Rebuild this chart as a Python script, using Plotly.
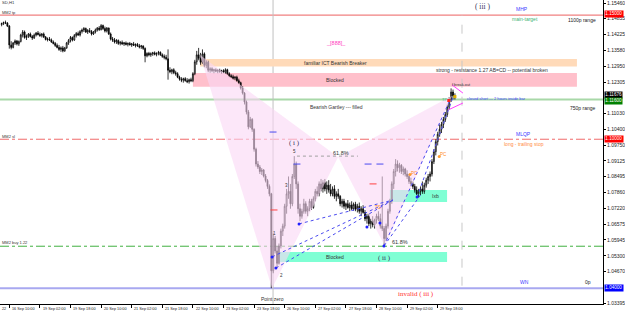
import plotly.graph_objects as go

# ---------------- data (GBPUSD H1, bar index 0 = 16 Sep 10:00) ----------------
bars = list(range(-4, 234))
opens = [
 1.1462,1.1466,1.1470,1.1468,1.1456,1.1380,1.1370,1.1388,1.1396,1.1384,
 1.1394,1.1420,1.1432,1.1410,1.1415,1.1424,1.1414,1.1408,1.1420,1.1428,
 1.1422,1.1418,1.1424,1.1412,1.1402,1.1404,1.1400,1.1392,1.1386,1.1378,
 1.1370,1.1362,1.1368,1.1356,1.1368,1.1388,1.1398,1.1410,1.1400,1.1418,
 1.1426,1.1420,1.1434,1.1440,1.1446,1.1432,1.1438,1.1434,1.1424,1.1432,
 1.1440,1.1448,1.1442,1.1458,1.1446,1.1436,1.1448,1.1424,1.1404,1.1400,
 1.1392,1.1398,1.1386,1.1390,1.1384,1.1388,1.1382,1.1386,1.1380,1.1384,
 1.1378,1.1382,1.1376,1.1372,1.1376,1.1366,1.1336,1.1346,1.1340,1.1344,
 1.1348,1.1342,1.1346,1.1350,1.1340,1.1334,1.1330,1.1324,1.1278,1.1272,
 1.1280,1.1268,1.1264,1.1250,1.1242,1.1238,1.1244,1.1236,1.1232,1.1240,
 1.1236,1.1264,1.1312,1.1340,1.1326,1.1310,1.1344,1.1298,1.1310,1.1278,
 1.1284,1.1276,1.1280,1.1274,1.1278,1.1272,1.1276,1.1270,1.1280,1.1264,
 1.1256,1.1252,1.1246,1.1250,1.1236,1.1228,1.1206,1.1186,1.1150,1.1110,
 1.1050,1.1080,1.1040,1.0960,1.0900,1.0888,1.0870,1.0876,1.0852,1.0834,
 1.0810,1.0780,1.0470,1.0600,1.0550,1.0500,1.0570,1.0630,1.0650,1.0730,
 1.0780,1.0790,1.0740,1.0850,1.0900,1.0820,1.0720,1.0690,1.0710,1.0740,
 1.0710,1.0720,1.0750,1.0725,1.0760,1.0790,1.0780,1.0820,1.0800,1.0825,
 1.0800,1.0815,1.0795,1.0780,1.0800,1.0770,1.0780,1.0770,1.0740,1.0750,
 1.0730,1.0740,1.0725,1.0735,1.0720,1.0738,1.0718,1.0730,1.0710,1.0720,
 1.0705,1.0680,1.0690,1.0660,1.0670,1.0655,1.0675,1.0690,1.0680,1.0650,
 1.0640,1.0600,1.0650,1.0710,1.0750,1.0820,1.0870,1.0900,1.0885,1.0895,
 1.0870,1.0880,1.0860,1.0850,1.0830,1.0820,1.0810,1.0795,1.0780,1.0790,
 1.0800,1.0790,1.0815,1.0835,1.0850,1.0860,1.0910,1.0950,1.0990,1.1020,
 1.1040,1.1060,1.1080,1.1100,1.1130,1.1160,1.1190,1.1175]
highs = [
 1.1470,1.1474,1.1478,1.1472,1.1460,1.1395,1.1392,1.1402,1.1400,1.1398,
 1.1425,1.1440,1.1438,1.1422,1.1428,1.1430,1.1420,1.1426,1.1432,1.1436,
 1.1430,1.1428,1.1430,1.1416,1.1410,1.1412,1.1406,1.1398,1.1392,1.1386,
 1.1380,1.1374,1.1376,1.1372,1.1392,1.1404,1.1416,1.1414,1.1424,1.1432,
 1.1434,1.1440,1.1446,1.1452,1.1450,1.1444,1.1448,1.1440,1.1436,1.1446,
 1.1452,1.1456,1.1464,1.1462,1.1454,1.1452,1.1450,1.1430,1.1412,1.1408,
 1.1404,1.1402,1.1396,1.1398,1.1392,1.1394,1.1390,1.1392,1.1388,1.1392,
 1.1386,1.1388,1.1384,1.1380,1.1378,1.1370,1.1350,1.1352,1.1350,1.1352,
 1.1354,1.1350,1.1356,1.1354,1.1346,1.1342,1.1340,1.1362,1.1290,1.1284,
 1.1286,1.1276,1.1270,1.1256,1.1250,1.1248,1.1250,1.1246,1.1244,1.1248,
 1.1270,1.1320,1.1356,1.1368,1.1348,1.1362,1.1350,1.1318,1.1316,1.1290,
 1.1290,1.1284,1.1286,1.1282,1.1284,1.1280,1.1282,1.1286,1.1284,1.1270,
 1.1262,1.1260,1.1254,1.1256,1.1244,1.1232,1.1214,1.1190,1.1156,1.1118,
 1.1090,1.1085,1.1044,1.0966,1.0912,1.0896,1.0884,1.0880,1.0860,1.0840,
 1.0818,1.0784,1.0620,1.0610,1.0570,1.0580,1.0640,1.0660,1.0740,1.0800,
 1.0850,1.0820,1.0860,1.0932,1.0910,1.0830,1.0740,1.0720,1.0760,1.0750,
 1.0730,1.0760,1.0760,1.0770,1.0800,1.0810,1.0830,1.0840,1.0835,1.0840,
 1.0830,1.0835,1.0820,1.0810,1.0815,1.0790,1.0800,1.0775,1.0760,1.0760,
 1.0745,1.0755,1.0745,1.0750,1.0745,1.0748,1.0740,1.0745,1.0730,1.0735,
 1.0715,1.0700,1.0700,1.0680,1.0690,1.0680,1.0700,1.0710,1.0700,1.0850,
 1.0650,1.0660,1.0720,1.0760,1.0830,1.0880,1.0920,1.0915,1.0905,1.0900,
 1.0890,1.0885,1.0875,1.0860,1.0845,1.0830,1.0820,1.0810,1.0800,1.0810,
 1.0830,1.0825,1.0845,1.0860,1.0870,1.0920,1.0960,1.1000,1.1030,1.1060,
 1.1070,1.1090,1.1110,1.1140,1.1170,1.1205,1.1200,1.1185]
lows = [
 1.1455,1.1460,1.1464,1.1452,1.1365,1.1362,1.1366,1.1380,1.1378,1.1376,
 1.1390,1.1410,1.1405,1.1400,1.1408,1.1410,1.1400,1.1404,1.1414,1.1418,
 1.1412,1.1410,1.1408,1.1398,1.1394,1.1396,1.1388,1.1382,1.1372,1.1366,
 1.1356,1.1352,1.1350,1.1352,1.1364,1.1380,1.1390,1.1394,1.1396,1.1410,
 1.1416,1.1414,1.1426,1.1432,1.1428,1.1424,1.1428,1.1418,1.1420,1.1426,
 1.1434,1.1436,1.1438,1.1440,1.1430,1.1430,1.1420,1.1398,1.1392,1.1386,
 1.1384,1.1380,1.1378,1.1380,1.1376,1.1378,1.1374,1.1378,1.1372,1.1376,
 1.1370,1.1372,1.1366,1.1364,1.1360,1.1310,1.1330,1.1334,1.1332,1.1336,
 1.1338,1.1334,1.1338,1.1336,1.1328,1.1322,1.1318,1.1240,1.1266,1.1262,
 1.1262,1.1256,1.1246,1.1236,1.1230,1.1228,1.1232,1.1226,1.1224,1.1230,
 1.1230,1.1258,1.1300,1.1318,1.1300,1.1304,1.1290,1.1286,1.1270,1.1268,
 1.1270,1.1266,1.1270,1.1266,1.1268,1.1264,1.1266,1.1264,1.1260,1.1250,
 1.1246,1.1240,1.1238,1.1232,1.1222,1.1200,1.1180,1.1140,1.1100,1.1040,
 1.1045,1.1030,1.0950,1.0890,1.0880,1.0860,1.0856,1.0846,1.0826,1.0800,
 1.0770,1.0400,1.0460,1.0540,1.0482,1.0495,1.0560,1.0610,1.0640,1.0700,
 1.0760,1.0720,1.0730,1.0840,1.0800,1.0700,1.0670,1.0680,1.0700,1.0700,
 1.0690,1.0710,1.0715,1.0720,1.0750,1.0770,1.0770,1.0790,1.0785,1.0790,
 1.0780,1.0785,1.0770,1.0770,1.0760,1.0750,1.0760,1.0730,1.0725,1.0720,
 1.0715,1.0720,1.0710,1.0715,1.0712,1.0710,1.0705,1.0700,1.0690,1.0700,
 1.0670,1.0660,1.0650,1.0640,1.0645,1.0640,1.0660,1.0670,1.0640,1.0630,
 1.0574,1.0590,1.0640,1.0700,1.0740,1.0800,1.0850,1.0870,1.0865,1.0860,
 1.0855,1.0850,1.0840,1.0820,1.0810,1.0800,1.0785,1.0775,1.0765,1.0775,
 1.0780,1.0780,1.0805,1.0820,1.0830,1.0850,1.0900,1.0935,1.0975,1.1010,
 1.1025,1.1045,1.1070,1.1090,1.1120,1.1150,1.1160,1.1160]
closes = [
 1.1466,1.1470,1.1468,1.1456,1.1380,1.1370,1.1388,1.1396,1.1384,1.1394,
 1.1420,1.1432,1.1410,1.1415,1.1424,1.1414,1.1408,1.1420,1.1428,1.1422,
 1.1418,1.1424,1.1412,1.1402,1.1404,1.1400,1.1392,1.1386,1.1378,1.1370,
 1.1362,1.1368,1.1356,1.1368,1.1388,1.1398,1.1410,1.1400,1.1418,1.1426,
 1.1420,1.1434,1.1440,1.1446,1.1432,1.1438,1.1434,1.1424,1.1432,1.1440,
 1.1448,1.1442,1.1458,1.1446,1.1436,1.1448,1.1424,1.1404,1.1400,1.1392,
 1.1398,1.1386,1.1390,1.1384,1.1388,1.1382,1.1386,1.1380,1.1384,1.1378,
 1.1382,1.1376,1.1372,1.1376,1.1366,1.1336,1.1346,1.1340,1.1344,1.1348,
 1.1342,1.1346,1.1350,1.1340,1.1334,1.1330,1.1324,1.1278,1.1272,1.1280,
 1.1268,1.1264,1.1250,1.1242,1.1238,1.1244,1.1236,1.1232,1.1240,1.1236,
 1.1264,1.1312,1.1340,1.1326,1.1310,1.1344,1.1298,1.1310,1.1278,1.1284,
 1.1276,1.1280,1.1274,1.1278,1.1272,1.1276,1.1270,1.1280,1.1264,1.1256,
 1.1252,1.1246,1.1250,1.1236,1.1228,1.1206,1.1186,1.1150,1.1110,1.1050,
 1.1080,1.1040,1.0960,1.0900,1.0888,1.0870,1.0876,1.0852,1.0834,1.0810,
 1.0780,1.0470,1.0600,1.0550,1.0500,1.0570,1.0630,1.0650,1.0730,1.0780,
 1.0790,1.0740,1.0850,1.0900,1.0820,1.0720,1.0690,1.0710,1.0740,1.0710,
 1.0720,1.0750,1.0725,1.0760,1.0790,1.0780,1.0820,1.0800,1.0825,1.0800,
 1.0815,1.0795,1.0780,1.0800,1.0770,1.0780,1.0770,1.0740,1.0750,1.0730,
 1.0740,1.0725,1.0735,1.0720,1.0738,1.0718,1.0730,1.0710,1.0720,1.0705,
 1.0680,1.0690,1.0660,1.0670,1.0655,1.0675,1.0690,1.0680,1.0650,1.0640,
 1.0600,1.0650,1.0710,1.0750,1.0820,1.0870,1.0900,1.0885,1.0895,1.0870,
 1.0880,1.0860,1.0850,1.0830,1.0820,1.0810,1.0795,1.0780,1.0790,1.0800,
 1.0790,1.0815,1.0835,1.0850,1.0860,1.0910,1.0950,1.0990,1.1020,1.1040,
 1.1060,1.1080,1.1100,1.1130,1.1160,1.1190,1.1175,1.11676]
assert len(bars) == len(opens) == len(highs) == len(lows) == len(closes)

x_tick_bars = [0, 16, 32, 48, 64, 80, 96, 112, 128, 144, 160, 176, 192, 208, 224]
x_tick_labels = ["16 Sep 10:00", "19 Sep 02:00", "19 Sep 18:00", "20 Sep 10:00",
                 "21 Sep 02:00", "21 Sep 18:00", "22 Sep 10:00", "23 Sep 02:00",
                 "23 Sep 18:00", "26 Sep 10:00", "27 Sep 02:00", "27 Sep 18:00",
                 "28 Sep 10:00", "29 Sep 02:00", "29 Sep 18:00"]
y_tick_values = [1.15460, 1.14855, 1.14225, 1.13580, 1.12950, 1.12305, 1.11030,
                 1.10400, 1.09750, 1.09125, 1.08495, 1.07860, 1.07220, 1.06575,
                 1.05945, 1.05300, 1.04670, 1.03395]
box_levels = [1.15000, 1.11676, 1.11600, 1.10000, 1.04000]
box_colors = ["#ff0000", "#000000", "#008000", "#ff0000", "#0000ff"]
box_shift = [1.5, 2.5, -1.5, 0, 0]

# horizontal levels
level_prices = [1.1500, 1.1160, 1.1000, 1.0569, 1.0400]
level_colors = ["#f08080", "#a8d8a8", "#f06a6a", "#40b040", "#a8a8f0"]
level_dash = ["solid", "solid", "dashdot", "dashdot", "solid"]
level_width = [1.2, 2, 1, 1, 2]

# zones
zone_x0 = [99.7, 96.0, 140.5, 199.0]
zone_x1 = [296.8, 296.8, 228.9, 228.9]
zone_lo = [1.1293, 1.1211, 1.0505, 1.0747]
zone_hi = [1.1323, 1.1267, 1.0546, 1.0796]
zone_colors = ["#ffdab9", "#ffc0cb", "#7fffd4", "#7fffd4"]
zone_labels = ["familiar ICT Bearish Breaker", "Blocked", "Blocked", "Ixb"]
zone_label_x = [170.3, 170.3, 170.3, 222.6]

# harmonic pattern points X A B C D
pat_bars = [99.7, 137.4, 171.9, 196.4, 231.5]
pat_prices = [1.1339, 1.0400, 1.0928, 1.0570, 1.1175]

# dotted blue fan lines
fan_x0 = [137.4, 139.4, 151.5, 195.9, 213.2, 195.9]
fan_y0 = [1.0526, 1.0481, 1.0659, 1.0570, 1.0767, 1.0570]
fan_x1 = [200.6, 200.6, 200.6, 230.4, 232.0, 215.0]
fan_y1 = [1.0755, 1.0755, 1.0755, 1.1158, 1.1170, 1.0775]
dot_bars = [137.4, 139.4, 151.5, 187.0, 193.8, 195.9, 213.2]
dot_prices = [1.0526, 1.0481, 1.0659, 1.0646, 1.0663, 1.0570, 1.0767]

blue_dash_bars = [137.9, 150.4, 187.6, 193.8]
blue_dash_prices = [1.1029, 1.0900, 1.0900, 1.0900]
red_dash_bars = [138.4, 190.2]
red_dash_prices = [1.0715, 1.0820]

fib_x = [150.4, 182.3]
fib_price = 1.0932

# ---------------- figure ----------------
FONT = "Liberation Sans"
SERIF = "Liberation Serif"
fig = go.Figure()

# pattern triangles
X, A, B, C, D = list(zip(pat_bars, pat_prices))
for tri in ([X, A, B, X], [B, C, D, B]):
    fig.add_trace(go.Scatter(x=[p[0] for p in tri], y=[p[1] for p in tri],
                             mode="lines", fill="toself", fillcolor="rgba(250,215,245,0.6)",
                             line=dict(width=0), hoverinfo="skip"))

# fan lines
for i in range(len(fan_x0)):
    fig.add_trace(go.Scatter(x=[fan_x0[i], fan_x1[i]], y=[fan_y0[i], fan_y1[i]],
                             mode="lines", line=dict(color="#4a4af0", width=1, dash="dot"),
                             hoverinfo="skip"))

# fib 61.8 dotted line
fig.add_trace(go.Scatter(x=fib_x, y=[fib_price, fib_price], mode="lines",
                         line=dict(color="#a0a0a0", width=1, dash="dot"), hoverinfo="skip"))

# magenta wedge near D
fig.add_trace(go.Scatter(x=[231.5, 237.2, None, 229.5, 237.2], y=[1.1219, 1.1186, None, 1.1118, 1.1146],
                         mode="lines", line=dict(color="#ff40ff", width=1), hoverinfo="skip"))

# candles
fig.add_trace(go.Candlestick(x=bars, open=opens, high=highs, low=lows, close=closes,
                             increasing=dict(line=dict(color="#000000", width=0.8), fillcolor="#ffffff"),
                             decreasing=dict(line=dict(color="#000000", width=0.8), fillcolor="#000000"),
                             whiskerwidth=0, hoverinfo="skip"))

# markers
fig.add_trace(go.Scatter(x=dot_bars, y=dot_prices, mode="markers",
                         marker=dict(color="#2020ff", size=3), hoverinfo="skip"))
fig.add_trace(go.Scatter(x=blue_dash_bars, y=blue_dash_prices, mode="markers",
                         marker=dict(symbol="line-ew", size=5, line=dict(color="#4a4af0", width=1)),
                         hoverinfo="skip"))
fig.add_trace(go.Scatter(x=red_dash_bars, y=red_dash_prices, mode="markers",
                         marker=dict(symbol="line-ew", size=5, line=dict(color="#ff4040", width=1)),
                         hoverinfo="skip"))
fig.add_trace(go.Scatter(x=[229.8, 233.0], y=[1.1156, 1.1172], mode="markers",
                         marker=dict(symbol="square", size=3, color=["#ff2020", "#e0b000"]),
                         hoverinfo="skip"))
fig.add_trace(go.Scatter(x=[209.5, 224.8], y=[1.0858, 1.0930], mode="markers",
                         marker=dict(size=3, color="#ff9c30"), hoverinfo="skip"))

shapes = []
for i in range(len(zone_x0)):
    shapes.append(dict(type="rect", xref="x", yref="y", x0=zone_x0[i], x1=zone_x1[i],
                       y0=zone_lo[i], y1=zone_hi[i], fillcolor=zone_colors[i],
                       line=dict(width=0), layer="below"))
for i in range(len(level_prices)):
    shapes.append(dict(type="line", xref="paper", yref="y", x0=0, x1=1,
                       y0=level_prices[i], y1=level_prices[i],
                       line=dict(color=level_colors[i], width=level_width[i], dash=level_dash[i]),
                       layer="below"))
# vertical lines
shapes.append(dict(type="line", xref="x", yref="paper", x0=137.9, x1=137.9, y0=0, y1=1,
                   line=dict(color="#c0c0c0", width=1), layer="below"))
shapes.append(dict(type="line", xref="x", yref="y", x0=236.7, x1=236.7, y0=1.0410, y1=1.1500,
                   line=dict(color="#c8c8c8", width=1, dash="dash"), layer="below"))

ann = []
def t(x, y, s, color="#333333", size=5, family=FONT, xanchor="center", xref="x", yref="y"):
    ann.append(dict(x=x, y=y, xref=xref, yref=yref, text=s, showarrow=False,
                    xanchor=xanchor, yanchor="middle",
                    font=dict(family=family, size=size, color=color)))

for i in range(len(zone_labels)):
    t(zone_label_x[i], (zone_lo[i] + zone_hi[i]) / 2, zone_labels[i])

t(0, 1.1550, "SD,H1", size=4.2, xanchor="left", xref="paper")
t(0, 1.1511, "MM2 tp", size=4, xanchor="left", xref="paper")
t(0, 1.1013, "MM2 sl", size=4, xanchor="left", xref="paper")
t(0, 1.0582, "MM2 buy 1.22", size=4, xanchor="left", xref="paper")
t(299.5, 1.1480, "1100p range", size=5, color="#222222")
t(300.0, 1.1126, "750p range", size=5, color="#222222")
t(268.1, 1.1525, "MHP", size=5, color="#3c3cff")
t(269.6, 1.1484, "main-target", size=5, color="#3cb371")
t(247.2, 1.1533, "( iii )", size=7.5, family=SERIF, color="#33335a")
t(170.9, 1.1389, "_[888]_", size=5.5, color="#ff40c0")
t(252.4, 1.1279, "strong - resistance 1.27 AB=CD -- potential broken", size=5)
t(230.4, 1.1217, "f break-out", size=3.8, xanchor="left")
t(227.3, 1.1162, "TP", size=4, color="#3cb371")
t(238.3, 1.1166, "closed short \u2014 2 hours inside bar", size=3.9, color="#4040ff", xanchor="left")
t(171.3, 1.1130, "Bearish Gartley --- filled", size=5)
t(269.1, 1.1021, "MLQP", size=5, color="#3c3cff")
t(269.1, 1.0981, "long - trailing stop", size=5, color="#ff8c40")
t(148.9, 1.0983, "( i )", size=7, family=SERIF, color="#33335a")
t(148.9, 1.0949, "5", size=4.5)
t(173.4, 1.0945, "61.8%", size=5.5)
t(144.7, 1.0812, "3", size=4.5)
t(138.9, 1.0622, "1", size=4.5)
t(142.1, 1.0453, "2", size=4.5)
t(211.8, 1.0864, "PC", size=4.5, color="#ff8c20")
t(227.0, 1.0937, "PC", size=4.5, color="#ff8c20")
t(192.8, 1.0727, "TS", size=4.5, color="#ff8c20")
t(204.3, 1.0586, "61.8%", size=5.5)
t(196.4, 1.0522, "( ii )", size=7, family=SERIF, color="#33335a")
t(269.6, 1.0425, "WN", size=5, color="#3c3cff")
t(302.6, 1.0425, "0p", size=5, color="#222222")
t(137.4, 1.0356, "Point zero", size=5)
t(212.7, 1.0377, "invalid ( iii )", size=7, family=SERIF, color="#ff3030")

# x-axis labels (MT4 style, left aligned after tick)
for b, s in zip(x_tick_bars, x_tick_labels):
    t(b + 0.4, -0.016, s, size=3.8, xanchor="left", yref="paper", color="#222222")
t(0, -0.016, "22", size=3.8, xanchor="left", xref="paper", yref="paper", color="#222222")

# highlighted price boxes on the right axis
for lv, col, sh in zip(box_levels, box_colors, box_shift):
    ann.append(dict(x=1, y=lv, xref="paper", yref="y", text=f"{lv:.5f}", showarrow=False,
                    xanchor="left", yanchor="middle", xshift=1, yshift=sh, bgcolor=col,
                    borderpad=0.3, font=dict(family=FONT, size=4.6, color="#ffffff")))

fig.update_layout(
    width=625, height=314, margin=dict(l=0, r=22, t=0, b=10),
    paper_bgcolor="#ffffff", plot_bgcolor="#ffffff", showlegend=False,
    hovermode=False, shapes=shapes, annotations=ann,
    xaxis=dict(range=[-4.863, 310.43], showgrid=False, zeroline=False, showline=True,
               linecolor="#000000", linewidth=1, ticks="outside", ticklen=3, tickcolor="#000000",
               tickvals=x_tick_bars, showticklabels=False, rangeslider=dict(visible=False),
               fixedrange=True),
    yaxis=dict(range=[1.03362, 1.1561], side="right", showgrid=False, zeroline=False,
               showline=True, linecolor="#000000", linewidth=1, ticks="outside", ticklen=2,
               tickcolor="#000000", tickvals=y_tick_values,
               ticktext=[f"{v:.5f}" for v in y_tick_values],
               tickfont=dict(family=FONT, size=5, color="#222222"), fixedrange=True),
)
fig.write_html("out.html", config={"displayModeBar": False})
